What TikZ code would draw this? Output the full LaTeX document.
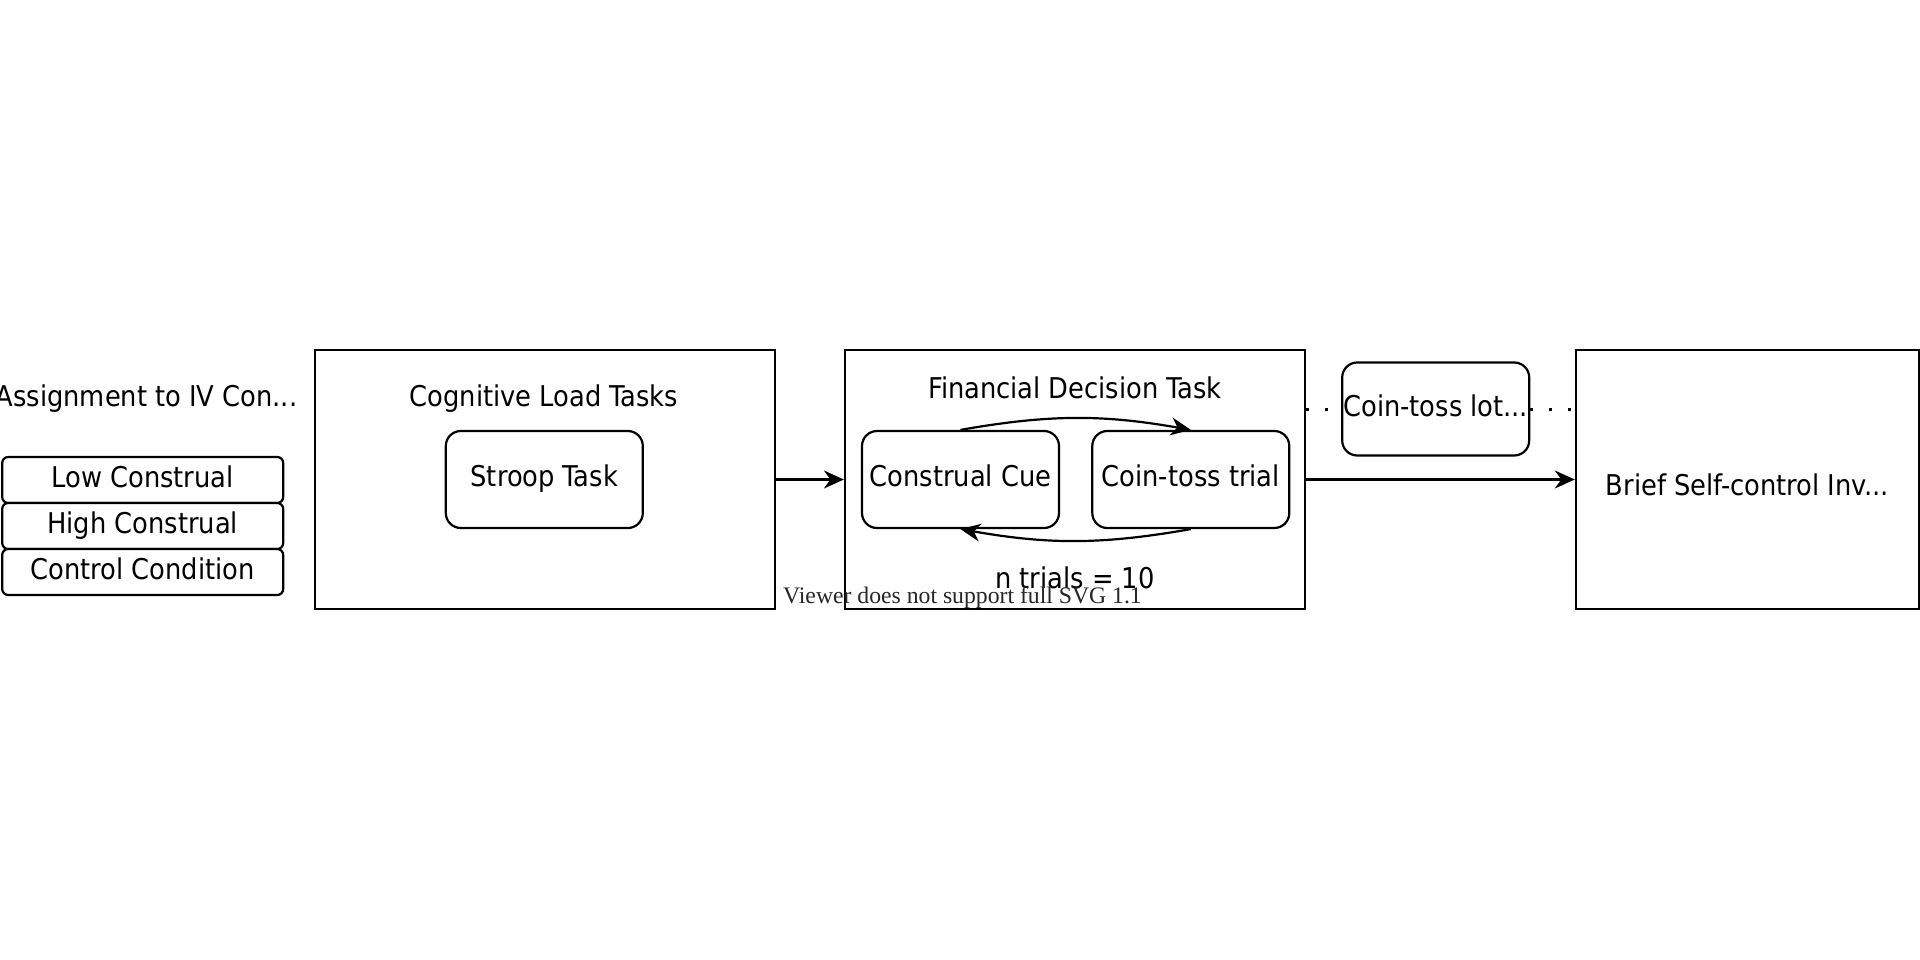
\documentclass[tikz,border=0pt]{standalone}
\usepackage{fontspec}
\setmainfont{DejaVu Sans Condensed}
\newfontfamily\viewerfont{Liberation Serif}
\usetikzlibrary{
    arrows.meta,
    positioning,
}

\begin{document}
\begin{tikzpicture}[
        x=1pt, y=-1pt,
        every node/.style={font=\fontsize{28.6}{34}\selectfont, text height=21pt, text depth=7pt},
        block/.style={rectangle, draw=black, fill=white, line width=2.2pt, inner sep=0pt},
        taskbox/.style={block, rounded corners=15pt, minimum width=197pt, minimum height=97pt},
        condbox/.style={block, rounded corners=6pt, outer sep=0pt, minimum width=281pt, minimum height=46pt},
        stagebox/.style={block, minimum width=460pt, minimum height=259pt},
        title/.style={inner sep=0pt},
        flow/.style={line width=2.2pt, -{Stealth[length=20pt, width=18pt]}},
        trialflow/.style={flow, bend left=10},
        dotlink/.style={line width=3pt, dash pattern=on 3pt off 16pt},
        ]
        \useasboundingbox (0,0) rectangle (1920,960);
        % conditions
        \node[title, anchor=east] (ASG) at (297.5,399) {Assignment to IV Con...};
        \node[condbox] (LOW) at (142.7,480) {Low Construal};
        \node[condbox] (HIGH) [below=0pt of LOW] {High Construal};
        \node[condbox] (CTRL) [below=0pt of HIGH] {Control Condition};
        % stages
        \node[stagebox] (COG) at (545,479.5) {};
        \node[title] (COGT) at (544,399) {Cognitive Load Tasks};
        \node[taskbox] (STR) at (544.3,479.5) {Stroop Task};
        \node[stagebox] (FDT) at (1075,479.5) {};
        \node[title] (FDTT) at (1075,391) {Financial Decision Task};
        \node[taskbox] (CUE) at (960.5,479.5) {Construal Cue};
        \node[taskbox] (COIN) at (1190.8,479.5) {Coin-toss trial};
        \node[title] (NTR) at (1075,581) {n trials = 10};
        \node[taskbox, minimum width=187pt, minimum height=93pt] (LOT) at (1435.7,409) {Coin-toss lot...};
        \node[block, minimum width=343pt, minimum height=259pt, text height=37pt, text depth=6pt] (BSC) at (1747.4,479.5) {Brief Self-control Inv...};
        \draw[flow] (COG) -- (FDT);
        \draw[flow] (FDT) -- (BSC);
        \draw[trialflow] (CUE.north) to (COIN.north);
        \draw[trialflow] (COIN.south) to (CUE.south);
        \draw[dotlink] (LOT.west -| FDT.east) -- (LOT.west);
        \draw[dotlink] (LOT.east) -- (LOT.east -| BSC.west);
        \node[anchor=base west, inner sep=0pt, text=black!85, font=\viewerfont\fontsize{23.7}{28}\selectfont] (VWR) at (783,603) {Viewer does not support full SVG 1.1};
\end{tikzpicture}
\end{document}
